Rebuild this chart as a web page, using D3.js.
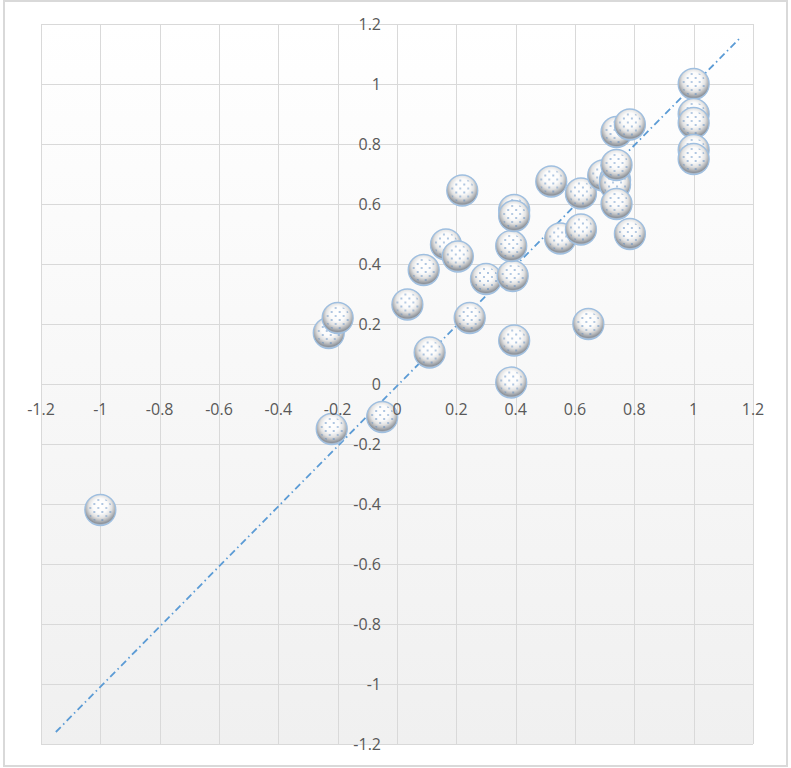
<!DOCTYPE html>
<html>
<head>
<meta charset="utf-8">
<script src="https://cdn.jsdelivr.net/npm/d3@7"></script>
<style>
  body { margin: 0; background: #ffffff; }
  .tick-label { font-family: "Open Sans", sans-serif; font-size: 16px; fill: #595959; }
</style>
</head>
<body>
<div id="chart"></div>
<script>
// datos de la serie (x, y)
var xValues = [-1.0, -0.22, -0.05, -0.23, -0.2, 0.035, 0.09, 0.11, 0.165, 0.205, 0.22, 0.245, 0.3,
               0.385, 0.395, 0.39, 0.385, 0.395, 0.395, 0.52, 0.55, 0.62, 0.62, 0.645, 0.695,
               0.735, 0.735, 0.74, 0.74, 0.74, 0.785, 0.785, 1, 1, 1, 1, 1];
var yValues = [-0.42, -0.15, -0.11, 0.17, 0.22, 0.265, 0.38, 0.105, 0.465, 0.425, 0.645, 0.22, 0.35,
               0.005, 0.145, 0.36, 0.46, 0.58, 0.56, 0.675, 0.485, 0.635, 0.515, 0.2, 0.695,
               0.68, 0.665, 0.73, 0.6, 0.84, 0.865, 0.5, 1, 0.9, 0.87, 0.78, 0.75];

// linea de tendencia (dash-dot)
var trendX = [-1.15, 1.155];
var trendY = [-1.16, 1.152];

var tickValues = [-1.2, -1, -0.8, -0.6, -0.4, -0.2, 0, 0.2, 0.4, 0.6, 0.8, 1, 1.2];

var chart_width  = 791;
var chart_height = 768;

var plot = { left: 41, right: 753, top: 24, bottom: 744 };

var svg = d3.select("#chart")
    .append("svg")
    .attr("width", chart_width)
    .attr("height", chart_height);

var defs = svg.append("defs");

// fondo del area de trazado
var bg = defs.append("linearGradient")
    .attr("id", "plotBg")
    .attr("x1", 0).attr("y1", 0).attr("x2", 0).attr("y2", 1);
bg.append("stop").attr("offset", "0%").attr("stop-color", "#ffffff");
bg.append("stop").attr("offset", "100%").attr("stop-color", "#f0f0f0");

// esfera
var sphere = defs.append("radialGradient")
    .attr("id", "sphere")
    .attr("cx", "50%").attr("cy", "40%").attr("r", "60%")
    .attr("fx", "50%").attr("fy", "35%");
sphere.append("stop").attr("offset", "0%").attr("stop-color", "#ffffff");
sphere.append("stop").attr("offset", "40%").attr("stop-color", "#fbfbfb");
sphere.append("stop").attr("offset", "62%").attr("stop-color", "#e2e2e2");
sphere.append("stop").attr("offset", "78%").attr("stop-color", "#b4b6b9");
sphere.append("stop").attr("offset", "90%").attr("stop-color", "#8d939b");
sphere.append("stop").attr("offset", "100%").attr("stop-color", "#c4d5e9");

// puntitos del relleno
var dots = defs.append("pattern")
    .attr("id", "dots")
    .attr("width", 8).attr("height", 8)
    .attr("patternUnits", "userSpaceOnUse");
dots.append("circle").attr("cx", 2).attr("cy", 2).attr("r", 1).attr("fill", "#4f81bd");
dots.append("circle").attr("cx", 6).attr("cy", 6).attr("r", 0.9).attr("fill", "#4f81bd");

// Escalas
var escalaX = d3.scaleLinear()
    .domain([-1.2, 1.2])
    .range([plot.left, plot.right]);

var escalaY = d3.scaleLinear()
    .domain([-1.2, 1.2])
    .range([plot.bottom, plot.top]);

// borde del grafico
svg.append("rect")
    .attr("x", 4).attr("y", 1)
    .attr("width", 783).attr("height", 765)
    .attr("fill", "#ffffff")
    .attr("stroke", "#d9d9d9")
    .attr("stroke-width", 2);

svg.append("rect")
    .attr("x", plot.left).attr("y", plot.top)
    .attr("width", plot.right - plot.left)
    .attr("height", plot.bottom - plot.top)
    .attr("fill", "url(#plotBg)");

// cuadricula
var grid = svg.append("g")
    .attr("stroke", "#d9d9d9")
    .attr("stroke-width", 1);

grid.selectAll(".vx")
    .data(tickValues)
    .join("line")
    .attr("x1", d => Math.round(escalaX(d)) + 0.5)
    .attr("x2", d => Math.round(escalaX(d)) + 0.5)
    .attr("y1", plot.top)
    .attr("y2", plot.bottom);

grid.selectAll(".hy")
    .data(tickValues)
    .join("line")
    .attr("y1", d => Math.round(escalaY(d)) + 0.5)
    .attr("y2", d => Math.round(escalaY(d)) + 0.5)
    .attr("x1", plot.left)
    .attr("x2", plot.right);

// tendencia
var line = d3.line()
    .x(d => escalaX(d[0]))
    .y(d => escalaY(d[1]));

svg.append("path")
    .datum(d3.zip(trendX, trendY))
    .attr("fill", "none")
    .attr("stroke", "#5b9bd5")
    .attr("stroke-width", 1.8)
    .attr("stroke-dasharray", "7,3.5,1.5,3.5")
    .attr("d", line);

// puntos
var puntos = d3.zip(xValues, yValues);

var marks = svg.append("g")
    .selectAll("g")
    .data(puntos)
    .join("g")
    .attr("transform", d => "translate(" + escalaX(d[0]) + "," + escalaY(d[1]) + ")");

marks.append("circle")
    .attr("r", 15.5)
    .attr("fill", "url(#sphere)")
    .attr("stroke", "#9fbfe0")
    .attr("stroke-width", 1.3);

marks.append("circle")
    .attr("r", 12)
    .attr("fill", "url(#dots)")
    .attr("opacity", 0.6);

// etiquetas de ejes
var fmt = d => String(+d.toFixed(1));

svg.append("g")
    .selectAll("text")
    .data(tickValues)
    .join("text")
    .attr("class", "tick-label")
    .attr("x", d => escalaX(d))
    .attr("y", escalaY(0) + 25)
    .attr("dy", "0.35em")
    .attr("text-anchor", "middle")
    .text(fmt);

svg.append("g")
    .selectAll("text")
    .data(tickValues)
    .join("text")
    .attr("class", "tick-label")
    .attr("x", escalaX(0) - 16)
    .attr("y", d => escalaY(d))
    .attr("dy", "0.35em")
    .attr("text-anchor", "end")
    .text(fmt);
</script>
</body>
</html>
